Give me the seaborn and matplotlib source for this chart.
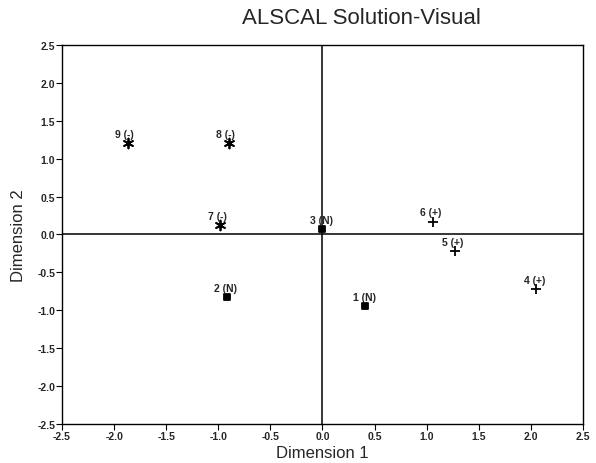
import pandas as pd
import matplotlib.pyplot as plt
import seaborn as sns

# Stimulus coordinates
labels = ["1 (N)", "2 (N)", "3 (N)", "4 (+)", "5 (+)", "6 (+)", "7 (-)", "8 (-)", "9 (-)"]
dim1 = [0.41, -0.92, 0.0, 2.05, 1.27, 1.06, -0.98, -0.90, -1.87]
dim2 = [-0.94, -0.83, 0.07, -0.72, -0.22, 0.17, 0.12, 1.21, 1.20]
group = ["N", "N", "N", "+", "+", "+", "-", "-", "-"]

ticks = [-2.5, -2.0, -1.5, -1.0, -0.5, 0.0, 0.5, 1.0, 1.5, 2.0, 2.5]

df = pd.DataFrame({"label": labels, "dim1": dim1, "dim2": dim2, "group": group})

sns.set_theme(style="white")
plt.rcParams["font.family"] = ["Liberation Sans", "DejaVu Sans"]

fig = plt.figure(figsize=(5.96, 4.64), dpi=100)
ax = fig.add_axes([0.104, 0.084, 0.874, 0.817])

# one call per marker type, since seaborn won't mix filled and line markers
marker_map = {"N": ("s", 22), "+": ("+", 50), "-": ((6, 2, 0), 50)}
for g, (m, size) in marker_map.items():
    sub = df[df["group"] == g]
    sns.scatterplot(data=sub, x="dim1", y="dim2", marker=m, color="black",
                    edgecolor="black", s=size, linewidth=1.3, legend=False, ax=ax)

for _, row in df.iterrows():
    ax.annotate(row["label"], (row["dim1"], row["dim2"]),
                xytext=(-9, 3), textcoords="offset points",
                ha="left", va="bottom", fontsize=7.5, fontweight="bold")

ax.axhline(0, color="black", lw=1.1)
ax.axvline(0, color="black", lw=1.1)

ax.set_xlim(-2.5, 2.5)
ax.set_ylim(-2.5, 2.5)
ax.set_xticks(ticks)
ax.set_yticks(ticks)
ax.set_xticklabels([f"{t:.1f}" for t in ticks], fontsize=7.5, fontweight="bold")
ax.set_yticklabels([f"{t:.1f}" for t in ticks], fontsize=7.5, fontweight="bold")
ax.tick_params(direction="out", length=4, width=0.8, color="black", pad=1,
               bottom=True, left=True)
for sp in ax.spines.values():
    sp.set_color("black")
    sp.set_linewidth(1)

ax.set_xlabel("Dimension 1", fontsize=12, labelpad=3)
ax.set_ylabel("Dimension 2", fontsize=12, labelpad=8)
fig.text(0.607, 0.96, "ALSCAL Solution-Visual", ha="center", va="center", fontsize=16)

fig.savefig("out.png", dpi=100)
plt.close(fig)
